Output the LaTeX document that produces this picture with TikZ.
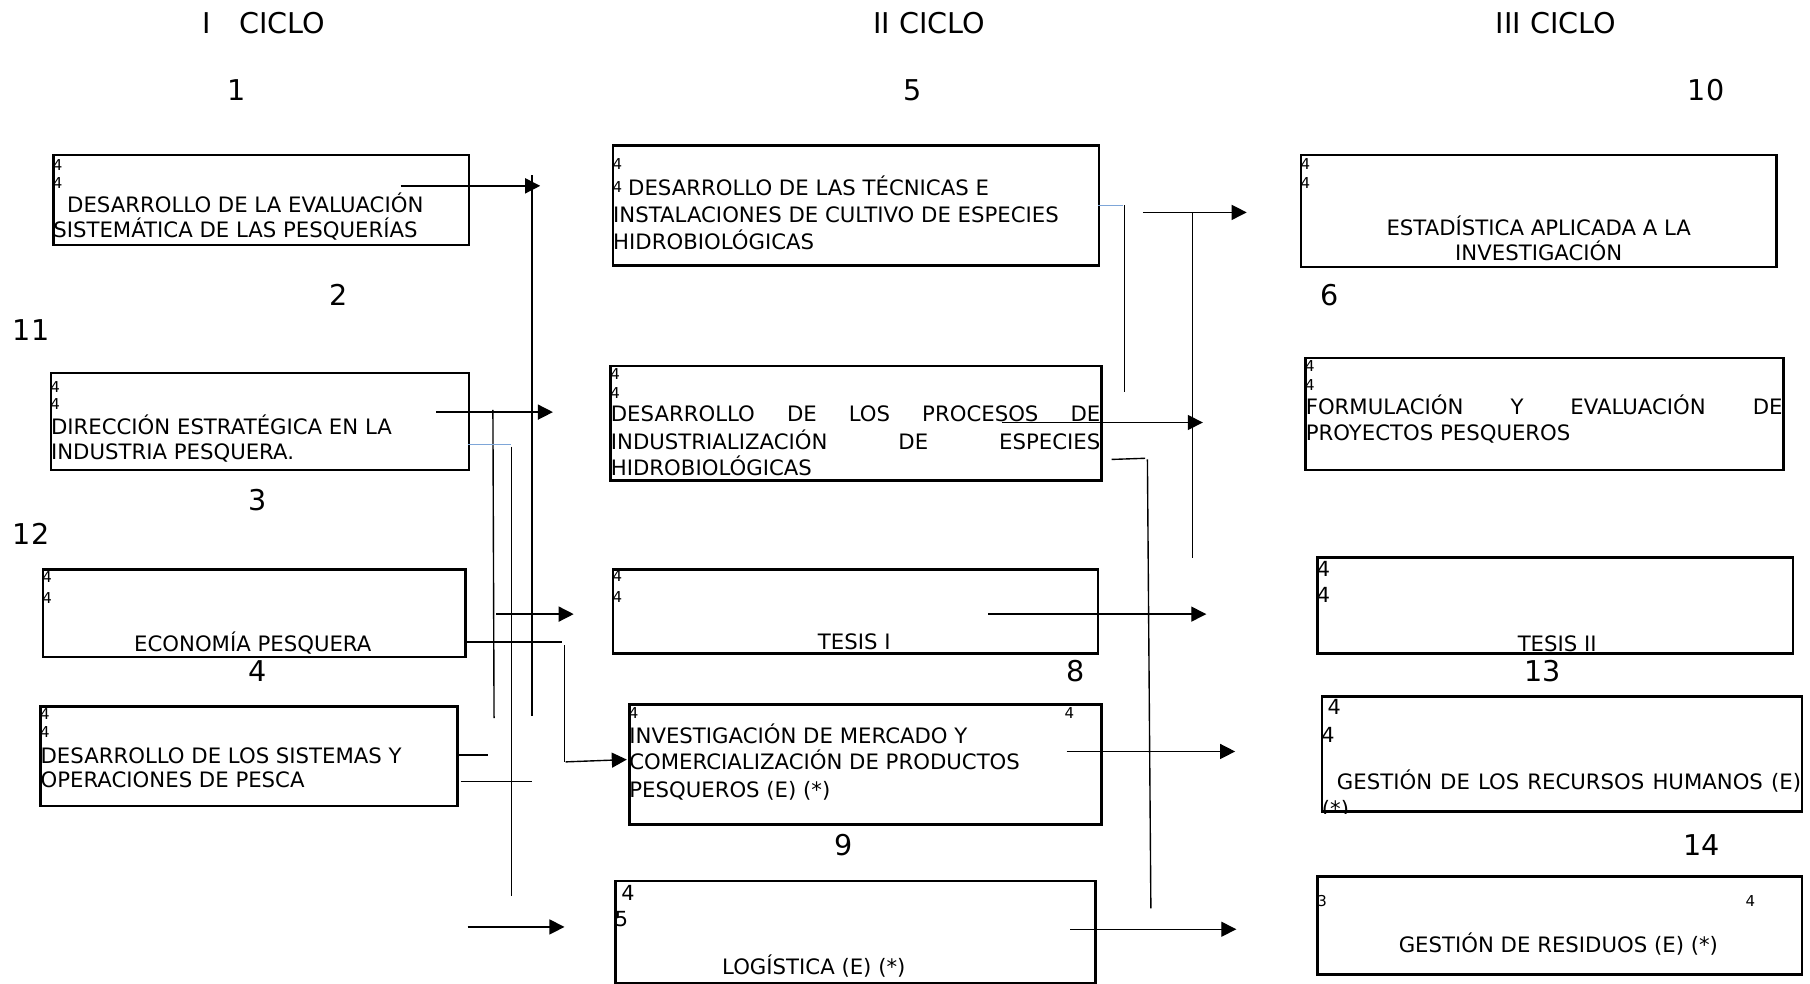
\documentclass[tikz,border=0pt]{standalone}
\usepackage{fontspec}
\setmainfont{DejaVu Sans}
\usetikzlibrary{arrows.meta}
\definecolor{bluel}{HTML}{7EA6D8}
\begin{document}
\begin{tikzpicture}[x=1pt,y=-1pt,
  box/.style={draw, line width=2.3pt, inner sep=0, anchor=north west},
  body/.style={font=\fontsize{18.4}{21}\selectfont, inner sep=0, anchor=base west},
  bodyc/.style={font=\fontsize{18.4}{21}\selectfont, inner sep=0, anchor=base},
  small/.style={font=\fontsize{13}{15}\selectfont, inner sep=0, anchor=base west},
  midnum/.style={font=\fontsize{18}{21}\selectfont, inner sep=0, anchor=base west},
  num/.style={font=\fontsize{24.8}{28}\selectfont, inner sep=0, anchor=base},
  conn/.style={line width=1.2pt},
  arr/.style={conn, -{Triangle[length=13pt,width=13pt]}},
  bconn/.style={line width=1.2pt, draw=bluel}
]
\useasboundingbox (0,0) rectangle (1568,852.4);

% titles
\node[num, anchor=base west] (ttl1) at (175,29) {I\hspace{25pt}CICLO};
\node[num] (ttl2) at (805,29) {II CICLO};
\node[num] (ttl3) at (1348,29) {III CICLO};

% numbers
\node[num] (n1) at (205,87) {1};
\node[num] (n5) at (791,87) {5};
\node[num] (n10) at (1478,87) {10};
\node[num] (n2) at (293,265) {2};
\node[num] (n11) at (27,295) {11};
\node[num] (n6) at (1152,265) {6};
\node[num] (n3) at (223,442) {3};
\node[num] (n12) at (27,472) {12};
\node[num] (n4) at (223,590) {4};
\node[num] (n8) at (932,590) {8};
\node[num] (n13) at (1336,590) {13};
\node[num] (n9) at (731,741) {9};
\node[num] (n14) at (1474,741) {14};

% ---------- column I ----------
\node[box, minimum width=360, minimum height=78] (b1) at (45,133) {};
\node[small] (b1s1) at (45.5,148) {4};
\node[small] (b1s2) at (45.5,163) {4};
\node[body] (b1t1) at (58,184) {DESARROLLO DE LA EVALUACIÓN};
\node[body] (b1t2) at (46,206) {SISTEMÁTICA DE LAS PESQUERÍAS};

\node[box, minimum width=362, minimum height=84] (b2) at (43,322) {};
\node[small] (b2s1) at (43.5,340) {4};
\node[small] (b2s2) at (43.5,355) {4};
\node[body] (b2t1) at (44,376) {DIRECCIÓN ESTRATÉGICA EN LA};
\node[body] (b2t2) at (44,398) {INDUSTRIA PESQUERA.};

\node[box, minimum width=366, minimum height=76] (b3) at (36,492) {};
\node[small] (b3s1) at (36.5,505) {4};
\node[small] (b3s2) at (36.5,523) {4};
\node[bodyc] (b3t1) at (219,564) {ECONOMÍA PESQUERA};

\node[box, minimum width=361, minimum height=86] (b4) at (34,611) {};
\node[small] (b4s1) at (34.5,623) {4};
\node[small] (b4s2) at (34.5,639) {4};
\node[body] (b4t1) at (35,661) {DESARROLLO DE LOS SISTEMAS Y};
\node[body] (b4t2) at (35,682) {OPERACIONES DE PESCA};

% ---------- column II ----------
\node[box, minimum width=421, minimum height=104] (b5) at (530,125) {};
\node[small] (b5s1) at (530.5,147) {4};
\node[small] (b5s2) at (530.5,167) {4};
\node[body] (b5t1) at (544,169) {DESARROLLO DE LAS TÉCNICAS E};
\node[body] (b5t2) at (531,193) {INSTALACIONES DE CULTIVO DE ESPECIES};
\node[body] (b5t3) at (531,216) {HIDROBIOLÓGICAS};

\node[box, minimum width=425, minimum height=99] (b6) at (528,316) {};
\node[small] (b6s1) at (528.5,329) {4};
\node[small] (b6s2) at (528.5,345) {4};
\node[body] (b6t1) at (529,365) {\makebox[424pt][s]{DESARROLLO DE LOS PROCESOS DE}};
\node[body] (b6t2) at (529,389) {\makebox[424pt][s]{INDUSTRIALIZACIÓN DE ESPECIES}};
\node[body] (b6t3) at (529,412) {HIDROBIOLÓGICAS};

\node[box, minimum width=420, minimum height=73] (b7) at (530,492) {};
\node[small] (b7s1) at (530.5,504) {4};
\node[small] (b7s2) at (530.5,522) {4};
\node[bodyc] (b7t1) at (740,563) {TESIS I};

\node[box, minimum width=409, minimum height=104] (b8) at (544,609) {};
\node[small] (b8s1) at (544.5,622) {4};
\node[small] (b8s2) at (922,622) {4};
\node[body] (b8t1) at (545,644) {INVESTIGACIÓN DE MERCADO Y};
\node[body] (b8t2) at (545,667) {COMERCIALIZACIÓN DE PRODUCTOS};
\node[body] (b8t3) at (545,691) {PESQUEROS (E) (*)};

\node[box, minimum width=416, minimum height=89] (b9) at (532,762) {};
\node[midnum] (b9s1) at (538,780) {4};
\node[midnum] (b9s2) at (532.5,803) {5};
\node[bodyc] (b9t1) at (705,844) {LOGÍSTICA (E) (*)};

% ---------- column III ----------
\node[box, minimum width=412, minimum height=97] (b10) at (1126,133) {};
\node[small] (b10s1) at (1126.5,147) {4};
\node[small] (b10s2) at (1126.5,163) {4};
\node[bodyc] (b10t1) at (1333,204) {ESTADÍSTICA APLICADA A LA};
\node[bodyc] (b10t2) at (1333,226) {INVESTIGACIÓN};

\node[box, minimum width=414, minimum height=97] (b11) at (1130,309) {};
\node[small] (b11s1) at (1130.5,322) {4};
\node[small] (b11s2) at (1130.5,338) {4};
\node[body] (b11t1) at (1131,359) {\makebox[413pt][s]{FORMULACIÓN Y EVALUACIÓN DE}};
\node[body] (b11t2) at (1131,382) {PROYECTOS PESQUEROS};

\node[box, minimum width=412, minimum height=83] (b12) at (1140,482) {};
\node[midnum] (b12s1) at (1140.5,499) {4};
\node[midnum] (b12s2) at (1140.5,522) {4};
\begin{scope}
\clip (b12.north west) rectangle (b12.south east);
\node[bodyc] (b12t1) at (1349,564) {TESIS II};
\end{scope}

\node[box, minimum width=416, minimum height=100] (b13) at (1144,602) {};
\node[midnum] (b13s1) at (1150,619) {4};
\node[midnum] (b13s2) at (1144.5,643) {4};
\begin{scope}
\clip (b13.north west) rectangle (b13.south east);
\node[body] (b13t1) at (1158,684) {\makebox[402pt][s]{GESTIÓN DE LOS RECURSOS HUMANOS (E)}};
\node[body] (b13t2) at (1145,707) {(*)};
\end{scope}

\node[box, minimum width=420, minimum height=85] (b14) at (1140,758) {};
\node[small] (b14s1) at (1141,785) {3};
\node[small] (b14s2) at (1512,785) {4};
\node[bodyc] (b14t1) at (1350,825) {GESTIÓN DE RESIDUOS (E) (*)};

% ---------- connector coordinates ----------
\coordinate (p1a) at (347,161);  \coordinate (p1b) at (468,161);
\coordinate (v1a) at (461,152);  \coordinate (v1b) at (461,620);
\coordinate (p2a) at (378,357);  \coordinate (p2b) at (479,357);
\coordinate (v2a) at (427,355);  \coordinate (v2b) at (428,622);
\coordinate (q1a) at (405,385);  \coordinate (q1b) at (443,385);
\coordinate (v3a) at (443,387);  \coordinate (v3b) at (443,776);
\coordinate (p3a) at (430,532);  \coordinate (p3b) at (497,532);
\coordinate (l4a) at (402,556);  \coordinate (l4b) at (487,556);
\coordinate (v4a) at (489,559);  \coordinate (v4b) at (489,660);
\coordinate (p4a) at (490,660);  \coordinate (p4b) at (543,658);
\coordinate (l5a) at (397,654);  \coordinate (l5b) at (423,654);
\coordinate (l6a) at (399,677);  \coordinate (l6b) at (461,677);
\coordinate (p5a) at (405,803);  \coordinate (p5b) at (489,803);
\coordinate (q2a) at (951,178);  \coordinate (q2b) at (973,178);
\coordinate (v5a) at (974,178);  \coordinate (v5b) at (974,340);
\coordinate (p6a) at (990,184);  \coordinate (p6b) at (1080,184);
\coordinate (v6a) at (1033,184); \coordinate (v6b) at (1033,483);
\coordinate (p7a) at (868,366);  \coordinate (p7b) at (1042,366);
\coordinate (l7a) at (963,398);  \coordinate (l7b) at (992,397);
\coordinate (v7a) at (994,398);  \coordinate (v7b) at (997,787);
\coordinate (p8a) at (856,532);  \coordinate (p8b) at (1045,532);
\coordinate (p9a) at (924,651);  \coordinate (p9b) at (1070,651);
\coordinate (p10a) at (927,805); \coordinate (p10b) at (1071,805);

% ---------- connectors ----------
\draw[arr] (p1a) -- (p1b);
\draw[conn] (v1a) -- (v1b);
\draw[arr] (p2a) -- (p2b);
\draw[conn] (v2a) -- (v2b);
\draw[bconn] (q1a) -- (q1b);
\draw[conn] (v3a) -- (v3b);
\draw[arr] (p3a) -- (p3b);
\draw[conn] (l4a) -- (l4b);
\draw[conn] (v4a) -- (v4b);
\draw[arr] (p4a) -- (p4b);
\draw[conn] (l5a) -- (l5b);
\draw[conn] (l6a) -- (l6b);
\draw[arr] (p5a) -- (p5b);
\draw[bconn] (q2a) -- (q2b);
\draw[conn] (v5a) -- (v5b);
\draw[arr] (p6a) -- (p6b);
\draw[conn] (v6a) -- (v6b);
\draw[arr] (p7a) -- (p7b);
\draw[conn] (l7a) -- (l7b);
\draw[conn] (v7a) -- (v7b);
\draw[arr] (p8a) -- (p8b);
\draw[arr] (p9a) -- (p9b);
\draw[arr] (p10a) -- (p10b);
\end{tikzpicture}
\end{document}
